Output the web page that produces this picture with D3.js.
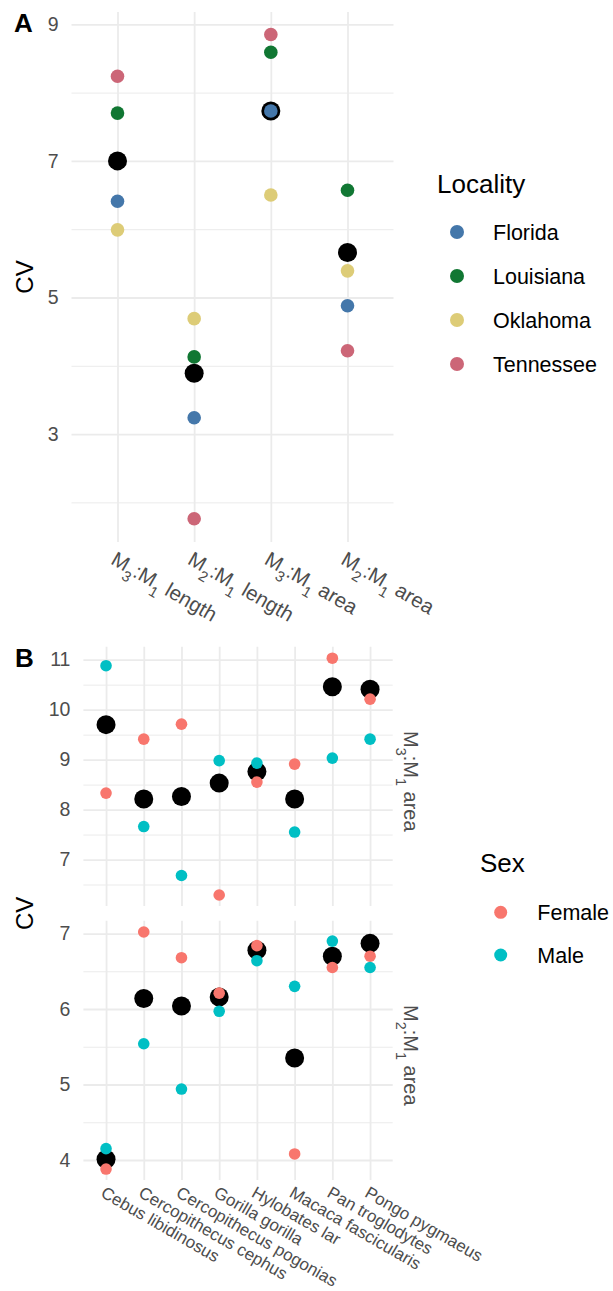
<!DOCTYPE html>
<html>
<head>
<meta charset="utf-8">
<script src="https://cdn.jsdelivr.net/npm/d3@7"></script>
<style>
  body { margin: 0; background: #fff; }
  svg { font-family: "Liberation Sans", Arial, sans-serif; }
  text { white-space: pre; }
</style>
</head>
<body>
<svg id="fig" width="613" height="1291"></svg>
<script>
// ---- panel A: CV by locality ----
var traitsA = ["M3:M1 length", "M2:M1 length", "M3:M1 area", "M2:M1 area"];
var localities = ["Florida", "Louisiana", "Oklahoma", "Tennessee"];
var localityColors = ["#4477AA", "#117733", "#DDCC77", "#CC6677"];
var floridaCV   = [6.41, 3.24, 7.73, 4.88];
var louisianaCV = [7.70, 4.13, 8.59, 6.57];
var oklahomaCV  = [5.99, 4.69, 6.50, 5.39];
var tennesseeCV = [8.24, 1.76, 8.85, 4.22];
var meanCVA     = [7.00, 3.89, 7.73, 5.66];
var ticksA = [3, 5, 7, 9];
var minorA = [2, 4, 6, 8];

// ---- panel B: CV by sex, two facets ----
var species = ["Cebus libidinosus", "Cercopithecus cephus", "Cercopithecus pogonias",
  "Gorilla gorilla", "Hylobates lar", "Macaca fascicularis", "Pan troglodytes", "Pongo pygmaeus"];
var sexes = ["Female", "Male"];
var sexColors = ["#F8766D", "#00BFC4"];
var facets = ["M3:M1 area", "M2:M1 area"];
var femaleM3 = [8.33, 9.41, 9.71, 6.29, 8.55, 8.91, 11.03, 10.21];
var maleM3   = [10.88, 7.66, 6.68, 8.98, 8.93, 7.55, 9.03, 9.41];
var meanM3   = [9.70, 8.21, 8.26, 8.53, 8.76, 8.21, 10.46, 10.41];
var femaleM2 = [3.88, 7.02, 6.68, 6.21, 6.84, 4.08, 6.55, 6.70];
var maleM2   = [4.15, 5.54, 4.94, 5.97, 6.64, 6.30, 6.90, 6.55];
var meanM2   = [4.01, 6.14, 6.04, 6.16, 6.78, 5.35, 6.70, 6.87];
var ticksM3 = [7, 8, 9, 10, 11];
var minorM3 = [6.5, 7.5, 8.5, 9.5, 10.5];
var ticksM2 = [4, 5, 6, 7];
var minorM2 = [4.5, 5.5, 6.5];

var svg = d3.select("#fig");
var gridCol = "#ebebeb", tickCol = "#4d4d4d";

// writes "M3:M1 length" with subscript digits
function ratioText(sel, label) {
  label.match(/M\d|[^M]+/g).forEach(function (p) {
    if (/^M\d$/.test(p)) {
      sel.append("tspan").text("M");
      sel.append("tspan").attr("baseline-shift", "sub").attr("font-size", "72%").text(p[1]);
    } else {
      sel.append("tspan").text(p);
    }
  });
}

function yGrid(g, y, x0, x1, major, minor, pad, fs) {
  g.append("g")
    .attr("transform", "translate(" + x0 + ",0)")
    .call(d3.axisLeft(y).tickValues(minor).tickSize(-(x1 - x0)).tickFormat(""))
    .call(function (a) {
      a.select(".domain").remove();
      a.selectAll("line").attr("stroke", gridCol).attr("stroke-width", 1);
    });
  g.append("g")
    .attr("transform", "translate(" + x0 + ",0)")
    .call(d3.axisLeft(y).tickValues(major).tickSize(-(x1 - x0)).tickPadding(pad).tickFormat(d3.format("d")))
    .call(function (a) {
      a.select(".domain").remove();
      a.selectAll("line").attr("stroke", gridCol).attr("stroke-width", 1.8);
      a.selectAll("text").attr("fill", tickCol).attr("font-size", fs)
        .attr("font-family", "Liberation Sans, Arial, sans-serif");
    });
}

function xGrid(g, x, y0, y1) {
  g.append("g")
    .attr("transform", "translate(0," + y1 + ")")
    .call(d3.axisBottom(x).tickSize(-(y1 - y0)).tickFormat(""))
    .call(function (a) {
      a.select(".domain").remove();
      a.selectAll("line").attr("stroke", gridCol).attr("stroke-width", 1.8);
    });
}

// ================= Panel A =================
var A = { left: 71.5, right: 393.5, top: 12, bottom: 542 };
var xA = d3.scalePoint().domain(traitsA).range([A.left, A.right]).padding(0.6);
var yA = d3.scaleLinear().domain([1.42, 9.18]).range([A.bottom, A.top]);

var gA = svg.append("g");
yGrid(gA, yA, A.left, A.right, ticksA, minorA, 13, "19.5px");
xGrid(gA, xA, A.top, A.bottom);

gA.selectAll(".meanA").data(traitsA).enter().append("circle")
  .attr("cx", function (d) { return xA(d); })
  .attr("cy", function (d, i) { return yA(meanCVA[i]); })
  .attr("r", 9.5).attr("fill", "#000");

var seriesA = [floridaCV, louisianaCV, oklahomaCV, tennesseeCV];
seriesA.forEach(function (vals, k) {
  gA.selectAll(".loc" + k).data(traitsA).enter().append("circle")
    .attr("cx", function (d) { return xA(d); })
    .attr("cy", function (d, i) { return yA(vals[i]); })
    .attr("r", 6.8).attr("fill", localityColors[k]);
});

traitsA.forEach(function (t) {
  var tx = gA.append("text")
    .attr("transform", "translate(" + xA(t) + "," + (A.bottom + 8) + ") rotate(30)")
    .attr("dy", "0.75em").attr("font-size", "20.5px").attr("fill", tickCol);
  ratioText(tx, t);
});

svg.append("text").attr("x", 14).attr("y", 32).attr("font-size", "26px")
  .attr("font-weight", "bold").text("A");
svg.append("text").attr("transform", "translate(33," + (A.top + A.bottom) / 2 + ") rotate(-90)")
  .attr("text-anchor", "middle").attr("font-size", "24px").text("CV");

// legend A
svg.append("text").attr("x", 437).attr("y", 193).attr("font-size", "26px").text("Locality");
localities.forEach(function (l, i) {
  var cy = 232 + i * 44;
  svg.append("circle").attr("cx", 457).attr("cy", cy).attr("r", 7).attr("fill", localityColors[i]);
  svg.append("text").attr("x", 493).attr("y", cy).attr("dy", "0.36em")
    .attr("font-size", "21.5px").text(l);
});

// ================= Panel B =================
var B = { left: 83.4, right: 392.7 };
var panelsB = [
  { top: 646.7, bottom: 906, domain: [6.07, 11.26], ticks: ticksM3, minor: minorM3,
    female: femaleM3, male: maleM3, mean: meanM3, facet: facets[0] },
  { top: 920.7, bottom: 1180, domain: [3.735, 7.17], ticks: ticksM2, minor: minorM2,
    female: femaleM2, male: maleM2, mean: meanM2, facet: facets[1] }
];
var xB = d3.scalePoint().domain(species).range([B.left, B.right]).padding(0.6);

panelsB.forEach(function (p) {
  var y = d3.scaleLinear().domain(p.domain).range([p.bottom, p.top]);
  var g = svg.append("g");
  yGrid(g, y, B.left, B.right, p.ticks, p.minor, 13, "19.5px");
  xGrid(g, xB, p.top, p.bottom);

  g.selectAll(".meanB").data(species).enter().append("circle")
    .attr("cx", function (d) { return xB(d); })
    .attr("cy", function (d, i) { return y(p.mean[i]); })
    .attr("r", 9.5).attr("fill", "#000");
  [p.female, p.male].forEach(function (vals, k) {
    g.selectAll(".sex" + k).data(species).enter().append("circle")
      .attr("cx", function (d) { return xB(d); })
      .attr("cy", function (d, i) { return y(vals[i]); })
      .attr("r", 5.8).attr("fill", sexColors[k]);
  });

  var st = g.append("text")
    .attr("transform", "translate(411," + ((p.top + p.bottom) / 2 + 5) + ") rotate(90)")
    .attr("text-anchor", "middle").attr("dy", "0.35em")
    .attr("font-size", "20px").attr("fill", tickCol);
  ratioText(st, p.facet);
});

species.forEach(function (s) {
  svg.append("text")
    .attr("transform", "translate(" + xB(s) + "," + 1185 + ") rotate(30)")
    .attr("dy", "0.75em").attr("font-size", "17px").attr("fill", tickCol).text(s);
});

svg.append("text").attr("x", 15).attr("y", 667).attr("font-size", "26px")
  .attr("font-weight", "bold").text("B");
svg.append("text").attr("transform", "translate(33," + (646.7 + 1180) / 2 + ") rotate(-90)")
  .attr("text-anchor", "middle").attr("font-size", "24px").text("CV");

// legend B
svg.append("text").attr("x", 480).attr("y", 872).attr("font-size", "26px").text("Sex");
sexes.forEach(function (s, i) {
  var cy = 912.3 + i * 42.7;
  svg.append("circle").attr("cx", 500.7).attr("cy", cy).attr("r", 6.5).attr("fill", sexColors[i]);
  svg.append("text").attr("x", 537.3).attr("y", cy).attr("dy", "0.36em")
    .attr("font-size", "21.5px").text(s);
});
</script>
</body>
</html>
